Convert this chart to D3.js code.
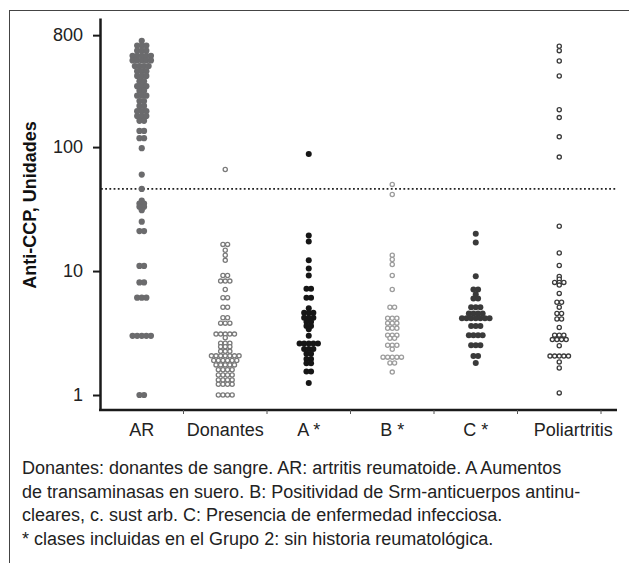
<!DOCTYPE html>
<html>
<head>
<meta charset="utf-8">
<script src="https://cdn.jsdelivr.net/npm/d3@7"></script>
<style>
  body { margin: 0; background: #fff; }
  svg { font-family: "Liberation Sans", Arial, Helvetica, sans-serif; }
</style>
</head>
<body>
<div id="chart"></div>
<script>
// categories
var groups = ["AR", "Donantes", "A *", "B *", "C *", "Poliartritis"];

// Anti-CCP values (units, log axis)
var arVals = [720, 660, 660, 660, 600, 600, 600, 545, 545, 545, 545, 545,
  500, 500, 500, 500, 500, 450, 450, 450, 450, 410, 410, 410, 375, 375, 375,
  340, 340, 310, 310, 310, 285, 285, 260, 260, 260, 235, 235, 215, 215,
  195, 195, 195, 178, 178, 178, 163, 163, 135, 135, 118, 118, 98,
  60, 46, 37, 35, 35, 33, 33, 31, 25, 21, 21, 11, 11, 8.1, 8.1,
  6.1, 6.1, 6.1, 3, 3, 3, 3, 3, 1, 1];
var donantesVals = [66, 16.4, 16.4, 14.7, 13.4, 12.2, 9.2, 9.2, 8.3, 8.3, 8.3,
  7.1, 6.1, 6.1, 5.1, 5.1, 4.2, 4.2, 3.8, 3.8, 3.8, 3.1, 3.1, 3.1, 3.1, 3.1,
  2.9, 2.62, 2.62, 2.62, 2.45, 2.45, 2.45, 2.25, 2.25, 2.25,
  2.07, 2.07, 2.07, 2.07, 2.07, 2.07, 2.07, 1.9, 1.9, 1.9, 1.9, 1.9, 1.9,
  1.75, 1.75, 1.75, 1.75, 1.75, 1.6, 1.6, 1.6, 1.6, 1.45, 1.45, 1.45, 1.45,
  1.32, 1.32, 1.32, 1.32, 1.22, 1.22, 1.22, 1.22, 1, 1, 1, 1];
var aVals = [88, 19.4, 17.3, 12.2, 10.5, 9.2, 7.2, 7.2, 6.1, 6.1, 5.0,
  4.6, 4.6, 4.6, 4.2, 4.2, 4.2, 3.9, 3.9, 3.6, 3.6, 3.4, 3.0,
  2.6, 2.6, 2.6, 2.6, 2.6, 2.35, 2.35, 2.35, 2.15, 2.15, 1.95, 1.95,
  1.8, 1.8, 1.55, 1.55, 1.25];
var bVals = [50, 41.5, 13.4, 12.4, 11.3, 9.2, 7.1, 5.1, 5.1, 4.16, 4.16, 4.16,
  3.8, 3.8, 3.8, 3.46, 3.46, 3.46, 3.04, 3.04, 3.04, 2.87, 2.87,
  2.52, 2.52, 2.52, 2.34, 2.02, 2.02, 2.02, 2.02, 2.02, 1.81, 1.81, 1.53];
var cVals = [20, 17, 9.1, 7.1, 7.1, 6.5, 6.0, 6.0, 5.1, 5.1, 5.1,
  4.55, 4.55, 4.55, 4.55, 4.16, 4.16, 4.16, 4.16, 4.16, 4.16, 4.16,
  3.6, 3.6, 3.6, 3.04, 3.04, 3.04, 3.04, 2.52, 2.52, 2.52, 2.06, 2.06, 1.81];
var poliVals = [650, 600, 495, 375, 200, 173, 121, 83, 23, 14, 11.1, 9.05,
  8.6, 8.1, 8.1, 8.1, 7.7, 6.6, 5.6, 5.6, 5.1, 4.55, 4.55, 4.1, 4.1, 3.5,
  3.04, 3.04, 3.04, 2.8, 2.8, 2.8, 2.8, 2.5, 2.06, 2.06, 2.06, 2.06, 2.06,
  1.85, 1.65, 1.04];

var allVals = [arVals, donantesVals, aVals, bVals, cVals, poliVals];

var yTicks = [1, 10, 100, 800];
var cutoff = 46;

var caption = [
  "Donantes: donantes de sangre. AR: artritis reumatoide. A Aumentos",
  "de transaminasas en suero. B: Positividad de Srm-anticuerpos antinu-",
  "cleares, c. sust arb. C: Presencia de enfermedad infecciosa.",
  "* clases incluidas en el Grupo 2: sin historia reumatológica."
];

// marker look per group
var styles = [
  {fill: "#6b6b6d", stroke: "none", r: 3.1},
  {fill: "#fff", stroke: "#7a7a7a", r: 2.1},
  {fill: "#161616", stroke: "none", r: 3},
  {fill: "#fff", stroke: "#9c9c9c", r: 2.1},
  {fill: "#3a3a3a", stroke: "none", r: 3},
  {fill: "#fff", stroke: "#3a3a3a", r: 2.1}
];
var gap = 4.6;

var W = 629, H = 563;
var svg = d3.select("#chart").append("svg")
  .attr("width", W)
  .attr("height", H);

// outer frame (runs off the right / bottom edge)
svg.append("rect")
  .attr("x", 9.5).attr("y", 10.5)
  .attr("width", 700).attr("height", 700)
  .attr("fill", "none")
  .attr("stroke", "#444")
  .attr("stroke-width", 1);

var x = d3.scaleBand()
  .domain(groups)
  .range([100, 601]);

var y = d3.scaleLog()
  .domain([0.757, 1100])
  .range([410, 18]);

// y axis
var yAxis = d3.axisLeft(y)
  .tickValues(yTicks)
  .tickFormat(d3.format("d"))
  .tickSize(7)
  .tickPadding(10)
  .tickSizeOuter(0);

var gy = svg.append("g")
  .attr("transform", "translate(100,0)")
  .call(yAxis);
gy.select(".domain").attr("stroke", "#1a1a1a").attr("stroke-width", 2.5);
gy.selectAll(".tick line").attr("stroke", "#1a1a1a").attr("stroke-width", 2);
gy.selectAll(".tick text")
  .attr("font-size", 18)
  .attr("fill", "#222");

// x axis
var xAxis = d3.axisBottom(x)
  .tickSize(0)
  .tickPadding(13)
  .tickSizeOuter(0);

var gx = svg.append("g")
  .attr("transform", "translate(0,410)")
  .call(xAxis);
gx.select(".domain").remove();
gx.selectAll(".tick text")
  .attr("font-size", 18)
  .attr("fill", "#222")
  .attr("dx", function(d) { return d === "Poliartritis" ? 14 : 0; });

// axis line and small ticks at band edges
svg.append("line")
  .attr("x1", 99).attr("x2", x.range()[1] + 16)
  .attr("y1", 410).attr("y2", 410)
  .attr("stroke", "#1a1a1a")
  .attr("stroke-width", 2.5);

svg.selectAll(".edge")
  .data(groups)
  .enter().append("line")
  .attr("class", "edge")
  .attr("x1", function(d) { return x(d) + x.step(); })
  .attr("x2", function(d) { return x(d) + x.step(); })
  .attr("y1", 410).attr("y2", 414)
  .attr("stroke", "#555")
  .attr("stroke-width", 1);

// y title
svg.append("text")
  .attr("transform", "translate(36,205) rotate(-90)")
  .attr("text-anchor", "middle")
  .attr("font-size", 18)
  .attr("font-weight", "bold")
  .attr("fill", "#111")
  .text("Anti-CCP, Unidades");

// cut-off line
svg.append("line")
  .attr("x1", 101).attr("x2", x.range()[1] + 16)
  .attr("y1", y(cutoff)).attr("y2", y(cutoff))
  .attr("stroke", "#222")
  .attr("stroke-width", 1.8)
  .attr("stroke-dasharray", "1.8,2.4");

// dots: equal values sit side by side in a row
function layout(vals) {
  var rows = d3.rollups(vals, function(v) { return v.length; }, function(d) { return d; });
  var out = [];
  rows.forEach(function(r) {
    d3.range(r[1]).forEach(function(i) {
      out.push({v: r[0], off: (i - (r[1] - 1) / 2) * gap});
    });
  });
  return out;
}

groups.forEach(function(g, gi) {
  var st = styles[gi];
  var cx = x(g) + x.bandwidth() / 2;
  svg.append("g")
    .selectAll("circle")
    .data(layout(allVals[gi]))
    .enter().append("circle")
    .attr("cx", function(d) { return cx + d.off; })
    .attr("cy", function(d) { return y(d.v); })
    .attr("r", st.r)
    .attr("fill", st.fill)
    .attr("stroke", st.stroke)
    .attr("stroke-width", st.stroke === "none" ? 0 : 1.3);
});

// caption
svg.append("g")
  .selectAll("text")
  .data(caption)
  .enter().append("text")
  .attr("x", 22)
  .attr("y", function(d, i) { return 474 + i * 23.5; })
  .attr("font-size", 18)
  .attr("fill", "#222")
  .text(function(d) { return d; });
</script>
</body>
</html>
